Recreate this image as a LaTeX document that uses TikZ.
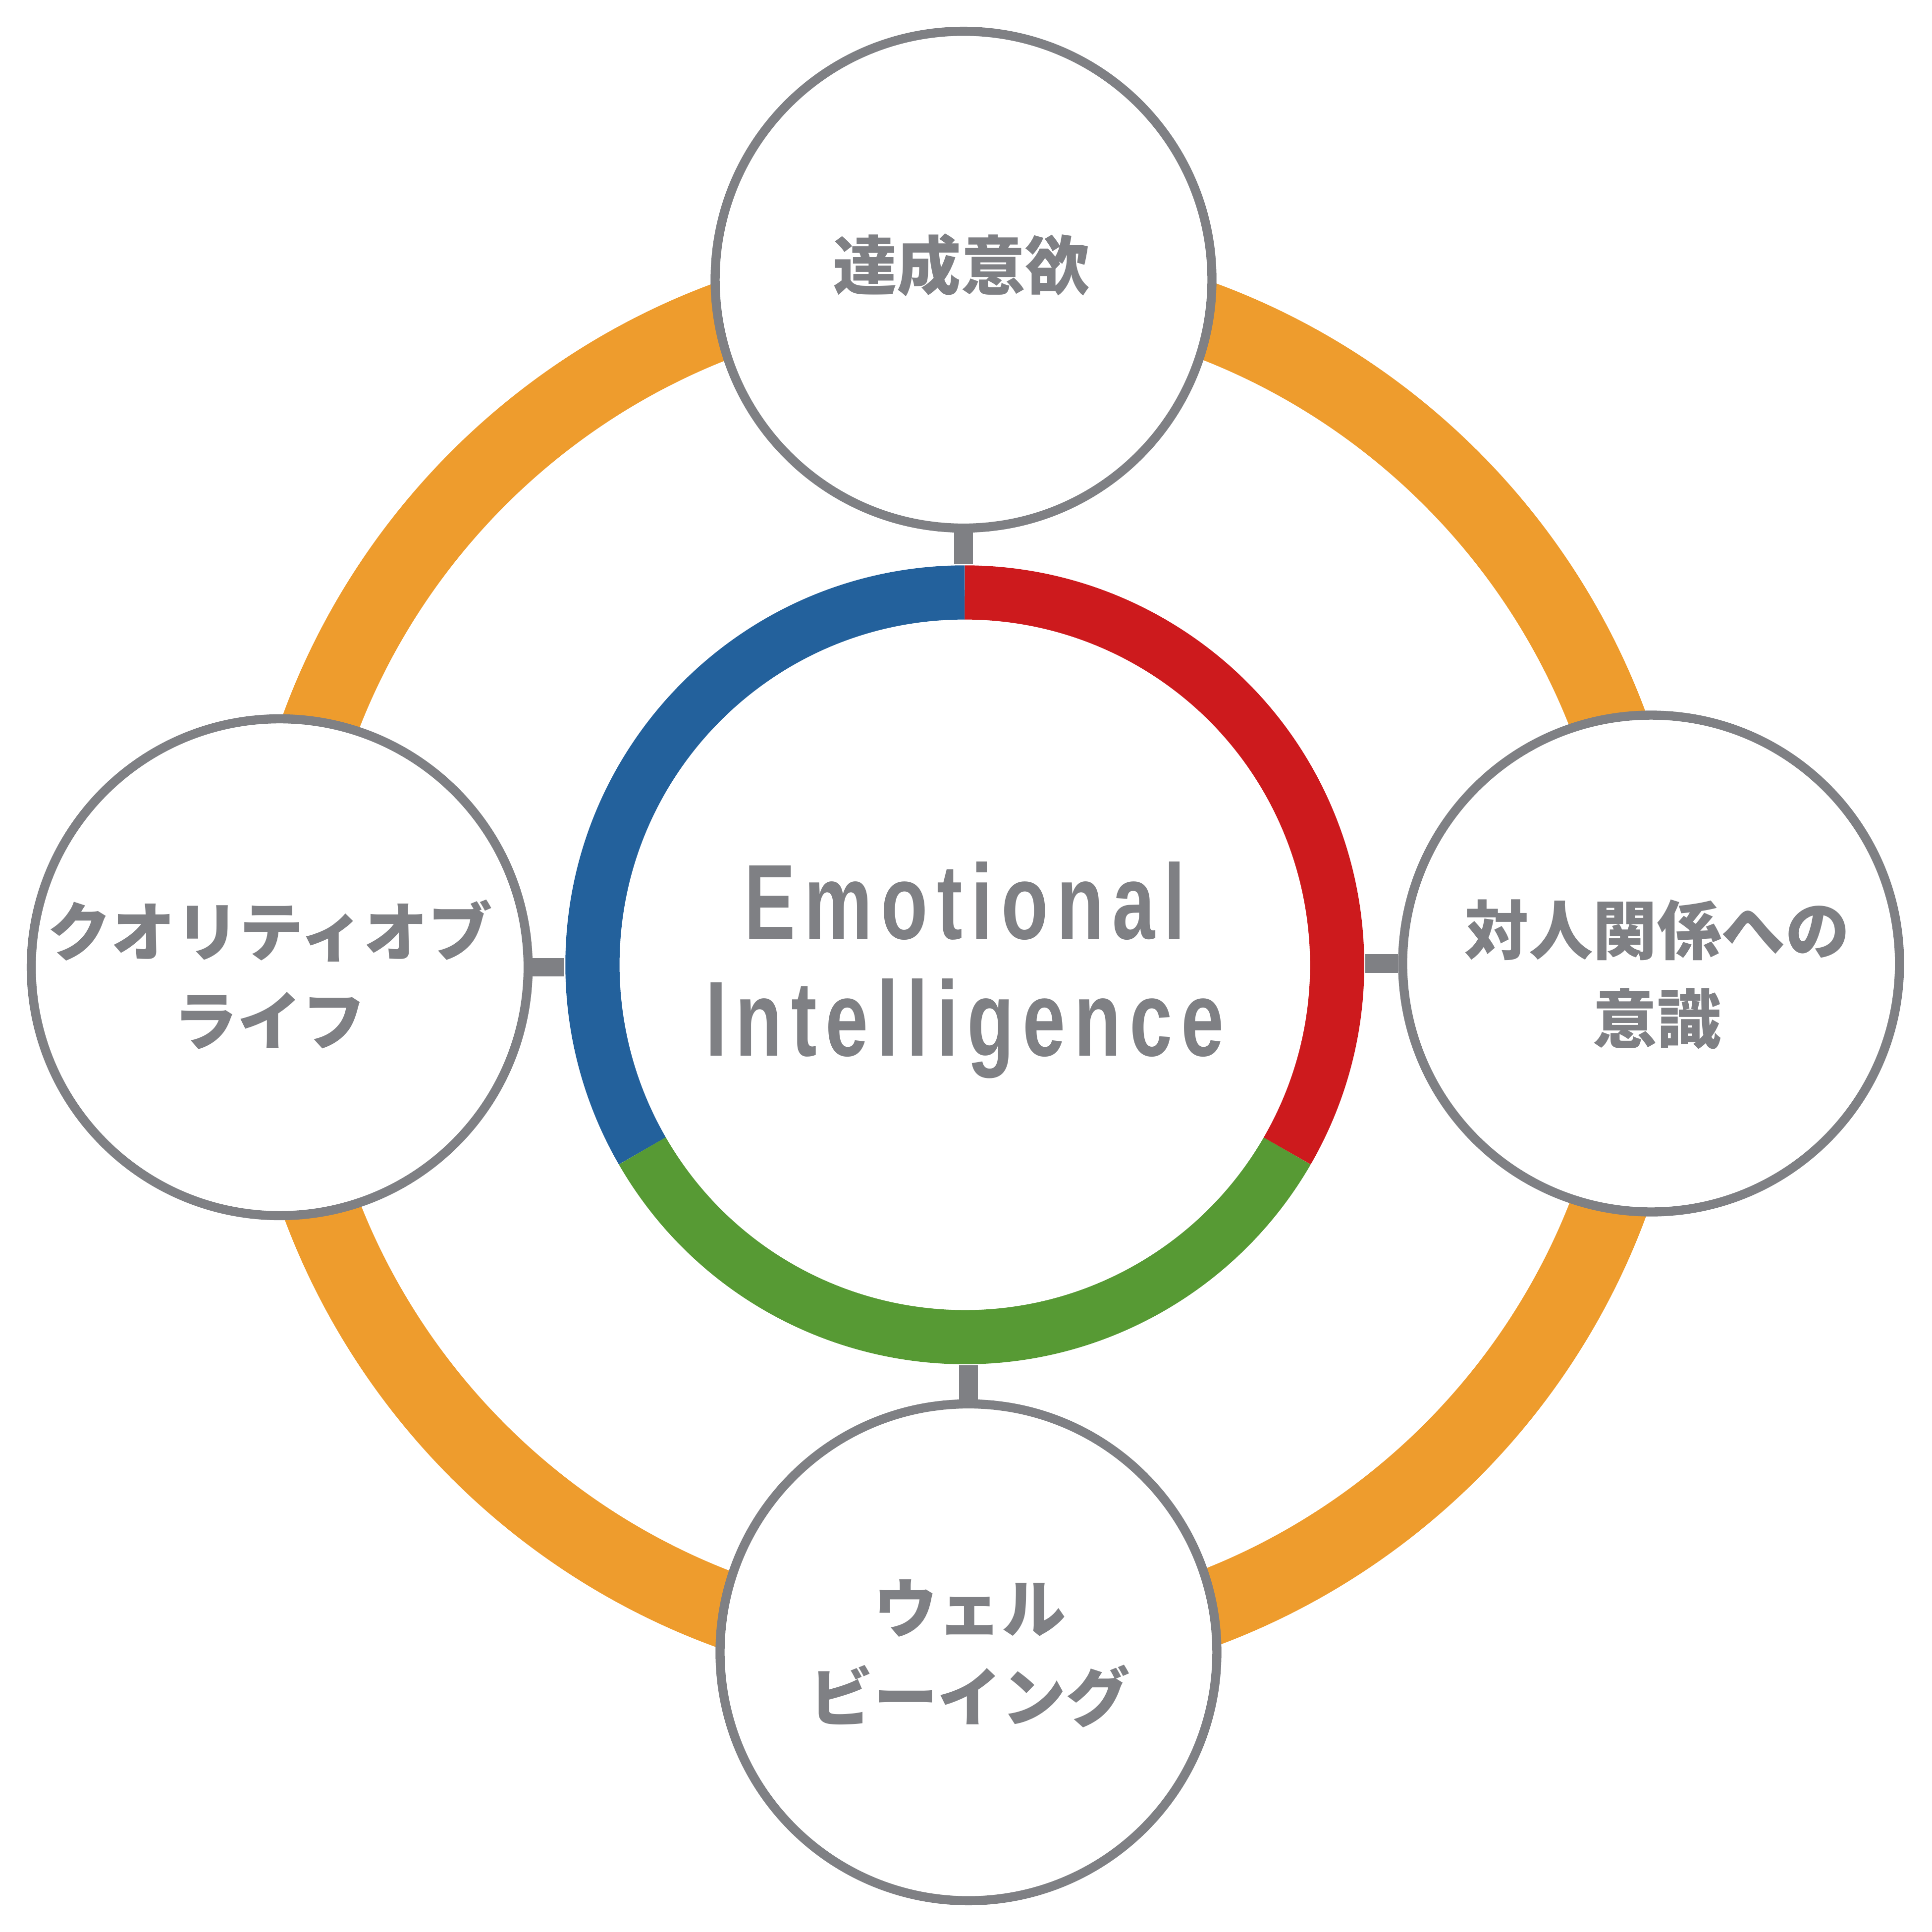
\documentclass[tikz,border=0pt]{standalone}
\usepackage{fontspec}
\newfontfamily\jpfont{Noto Sans CJK JP}
\newfontfamily\eifont[FakeStretch=0.72,LetterSpace=8.2,Ligatures=NoCommon]{Liberation Sans}
\definecolor{eigray}{RGB}{127,128,132}
\definecolor{eiorange}{RGB}{238,156,45}
\definecolor{eiblue}{RGB}{35,97,156}
\definecolor{eired}{RGB}{205,26,29}
\definecolor{eigreen}{RGB}{87,154,52}
\begin{document}
\begin{tikzpicture}[x=0.01cm,y=0.01cm,
  orb/.style={circle,draw=eigray,line width=2.1pt,fill=white,minimum size=4.03cm,inner sep=0pt},
  lbl/.style={text=eigray,font=\jpfont\bfseries\fontsize{14.8pt}{20.5pt}\selectfont,align=center,inner sep=0pt},
  eitext/.style={text=eigray,font=\eifont\bfseries\fontsize{24.6pt}{27pt}\selectfont,inner sep=0pt},
  ringseg/.style={line width=12.5pt,line cap=butt},
  conn/.style={draw=eigray,line width=4.3pt,line cap=butt}]
\useasboundingbox (0,0) rectangle (1568,1568);
\coordinate (c) at (783,785);
% orange ring
\draw[eiorange,line width=17.6pt] (c) circle[radius=5.58cm];
% coloured centre ring
\draw[ringseg,eiblue] ([shift={(90:3.02cm)}]c) arc[start angle=90,end angle=210,radius=3.02cm];
\draw[ringseg,eigreen] ([shift={(210:3.02cm)}]c) arc[start angle=210,end angle=330,radius=3.02cm];
\draw[ringseg,eired] ([shift={(-30:3.02cm)}]c) arc[start angle=-30,end angle=90,radius=3.02cm];
\node[circle,minimum size=6.48cm,inner sep=0pt] (ei) at (c) {};
% outer circles
\node[orb] (top) at (782,1341) {};
\node[orb] (rgt) at (1340,786) {};
\node[orb] (bot) at (786,227) {};
\node[orb] (lft) at (227,783) {};
% connectors
\draw[conn] (top.south) -- (top.south |- ei.north);
\draw[conn] (rgt.west) -- (rgt.west -| ei.east);
\draw[conn] (bot.north) -- (bot.north |- ei.south);
\draw[conn] (lft.east) -- (lft.east -| ei.west);
% texts
\node[eitext,anchor=base] (ei1) at (783,806) {Emotional};
\node[eitext,anchor=base] (ei2) at (783,711) {Intelligence};
\node[lbl] (t1) at (780,1353) {達成意欲};
\node[lbl] (t2) at (1345,777) {対人関係への\\意識};
\node[lbl] (t3) at (787,226) {ウェル\\ビーイング};
\node[lbl] (t4) at (219,777) {クオリティオブ\\ライフ};
\end{tikzpicture}
\end{document}
